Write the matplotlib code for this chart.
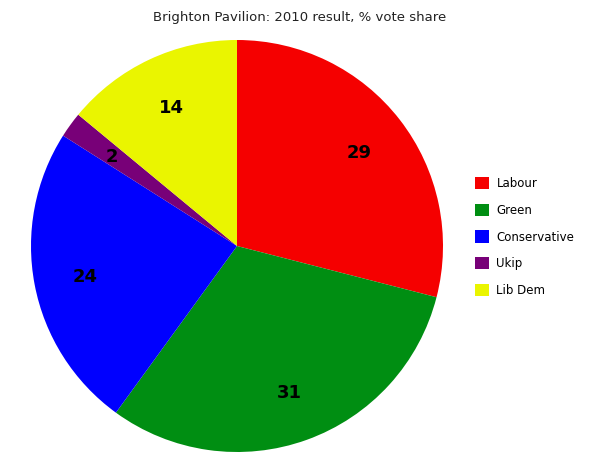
import matplotlib
matplotlib.use('Agg')
import matplotlib.pyplot as plt
from matplotlib.patches import Patch

parties = ['Labour', 'Green', 'Conservative', 'Ukip', 'Lib Dem']
shares = [29, 31, 24, 2, 14]
colours = ['#f50000', '#008e12', '#0000ff', '#780078', '#eaf500']

fig = plt.figure(figsize=(6, 4.63), dpi=100)
ax = fig.add_axes([31/600, 11/463, 412/600, 412/463])

wedges, texts = ax.pie(shares, colors=colours, startangle=90, counterclock=False,
                       labels=[str(s) for s in shares], labeldistance=0.75,
                       wedgeprops=dict(linewidth=0),
                       textprops=dict(fontsize=13, fontweight='bold', color='black'))
for t in texts:
    t.set_ha('center')
    t.set_va('center_baseline')
ax.set_xlim(-1, 1)
ax.set_ylim(-1, 1)
ax.set_aspect('equal')

fig.text(0.5, 1 - 18/463, 'Brighton Pavilion: 2010 result, % vote share',
         ha='center', va='center', fontsize=9.5, color='#222222')

# legend centred at y=237px from the top
handles = [Patch(facecolor=c, edgecolor='none') for c in colours]
fig.legend(handles, parties, loc='center left', bbox_to_anchor=(464/600, 1 - 237/463),
           frameon=False, fontsize=8.5, handlelength=1.2, handleheight=1.2,
           labelspacing=1.15, handletextpad=0.65)

fig.savefig('out.png', dpi=100)
